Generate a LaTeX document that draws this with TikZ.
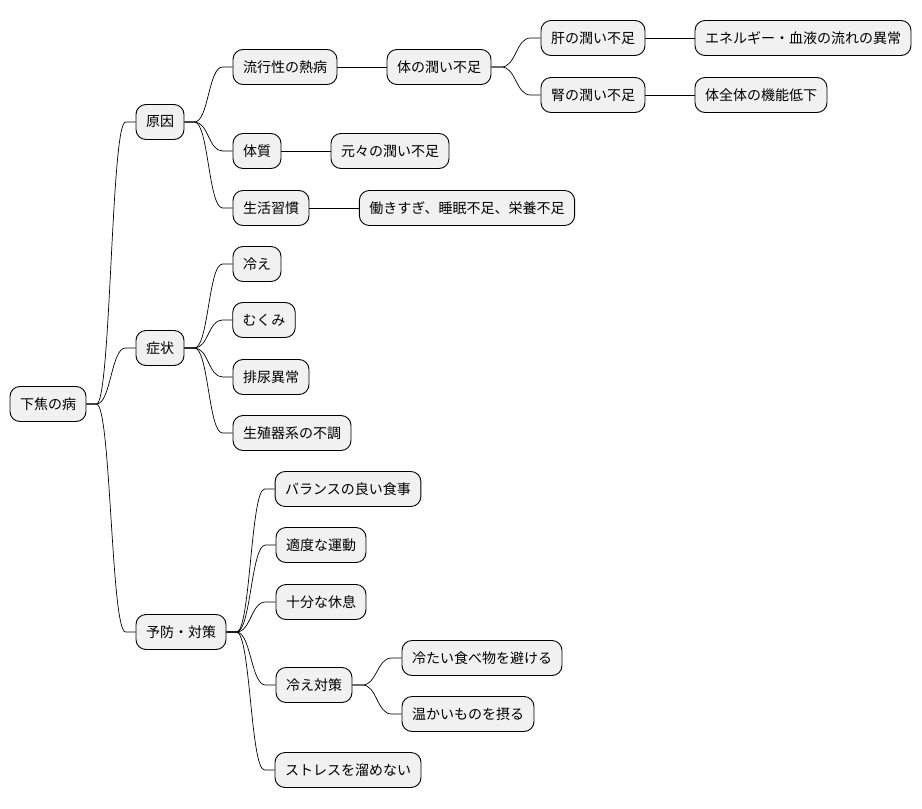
\documentclass[tikz,border=0pt]{standalone}
\usepackage{fontspec}
\newfontfamily\jpfont{Noto Sans CJK JP}
\usetikzlibrary{calc}

\definecolor{boxfill}{HTML}{F1F1F1}

\begin{document}
\begin{tikzpicture}[x=1pt, y=-1pt,
    every node/.style={draw, fill=boxfill, rounded corners=10pt, line width=0.9pt,
      inner xsep=10pt, inner ysep=0pt, minimum height=35pt,
      font=\jpfont\fontsize{14}{16}\selectfont},
    branch/.style={line width=0.7pt}]

        \useasboundingbox (0,0) rectangle (922,809);

        % root and first level
        \node (root) at (48, 404) {下焦の病};
        \node (cause) at (160, 122) {原因};
        \node (symp) at (160, 348) {症状};
        \node (prev) at (181, 632) {予防・対策};

        % causes
        \node (fever) at (285, 67) {流行性の熱病};
        \node (dry) at (439, 67) {体の潤い不足};
        \node (liver) at (593, 38) {肝の潤い不足};
        \node (kidney) at (593, 95) {腎の潤い不足};
        \node (flow) at (803, 38) {エネルギー・血液の流れの異常};
        \node (func) at (761, 95) {体全体の機能低下};
        \node (const) at (257, 151) {体質};
        \node (orig) at (390, 151) {元々の潤い不足};
        \node (life) at (271, 208) {生活習慣};
        \node (work) at (467, 208) {働きすぎ、睡眠不足、栄養不足};

        % symptoms
        \node (cold) at (257, 264) {冷え};
        \node (swell) at (264, 320) {むくみ};
        \node (urine) at (271, 377) {排尿異常};
        \node (repro) at (292, 433) {生殖器系の不調};

        % prevention
        \node (diet) at (348, 489) {バランスの良い食事};
        \node (exer) at (321, 545) {適度な運動};
        \node (rest) at (321, 602) {十分な休息};
        \node (warm) at (314, 685) {冷え対策};
        \node (nocold) at (482, 658) {冷たい食べ物を避ける};
        \node (hot) at (468, 714) {温かいものを摂る};
        \node (stress) at (348, 770) {ストレスを溜めない};

        \foreach \a/\b in {root/cause, root/symp, root/prev,
            cause/fever, cause/const, cause/life,
            dry/liver, dry/kidney,
            symp/cold, symp/swell, symp/urine, symp/repro,
            prev/diet, prev/exer, prev/rest, prev/warm, prev/stress,
            warm/nocold, warm/hot} {
          \coordinate (s) at ($(\a.east)+(10,0)$);
          \coordinate (e) at ($(\b.west)+(-10,0)$);
          \coordinate (m) at ($(s)!0.5!(e)$);
          \draw[branch] (\a.east) -- (s) .. controls (m |- s) and (m |- e) .. (e) -- (\b.west);
        }

        \foreach \a/\b in {fever/dry, liver/flow, kidney/func, const/orig, life/work} {
          \draw[branch] (\a) -- (\b);
        }

      \end{tikzpicture}
\end{document}
